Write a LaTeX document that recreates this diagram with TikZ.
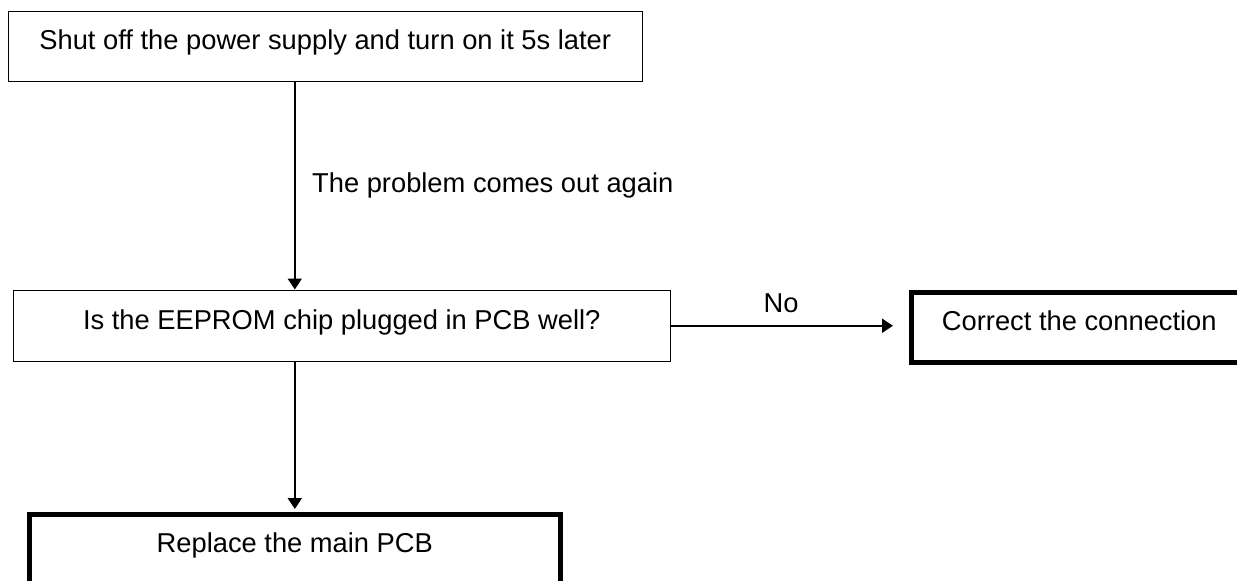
\documentclass[tikz,border=0pt]{standalone}
\usepackage{fontspec}
\setmainfont{Liberation Sans}
\usetikzlibrary{arrows.meta}
\begin{document}
\begin{tikzpicture}[x=1pt,y=1pt,
  every node/.style={font=\fontsize{27.3}{32}\selectfont},
  thinbox/.style={draw, line width=1.5pt, rectangle, inner sep=0pt, anchor=north west, text height=0.716em, text depth=0pt},
  thickbox/.style={draw, line width=4.6pt, rectangle, inner sep=0pt, anchor=north west, text height=0.716em, text depth=0pt},
  lbl/.style={inner sep=0pt},
  arr/.style={line width=2pt, -{Triangle[length=11pt,width=14pt]}}
]
\useasboundingbox (0,0) rectangle (1237,-581);
\clip (0,0) rectangle (1237,-581);
\fill[white] (0,0) rectangle (1237,-581);

\node[thinbox, minimum width=634, minimum height=70] (b1) at (7.5,-10.5) {Shut off the power supply and turn on it 5s later};
\node[thinbox, minimum width=657, minimum height=71] (b2) at (12.5,-289.5) {Is the EEPROM chip plugged in PCB well?};
\node[thickbox, minimum width=336, minimum height=70] (b3) at (909,-290) {Correct the connection};
\node[thickbox, minimum width=531, minimum height=70] (b4) at (27,-512) {Replace the main PCB};

\node[lbl, anchor=base west] (l1) at (312,-192) {The problem comes out again};
\node[lbl, anchor=base] (l2) at (781,-312) {No};

\draw[arr] (b4.north |- b1.south) -- (b4.north |- b2.north);
\draw[arr, shorten >=3pt] (b4.north |- b2.south) -- (b4.north);
\draw[arr, shorten >=16pt] (b2.east) -- (b2.east -| b3.west);
\end{tikzpicture}
\end{document}
